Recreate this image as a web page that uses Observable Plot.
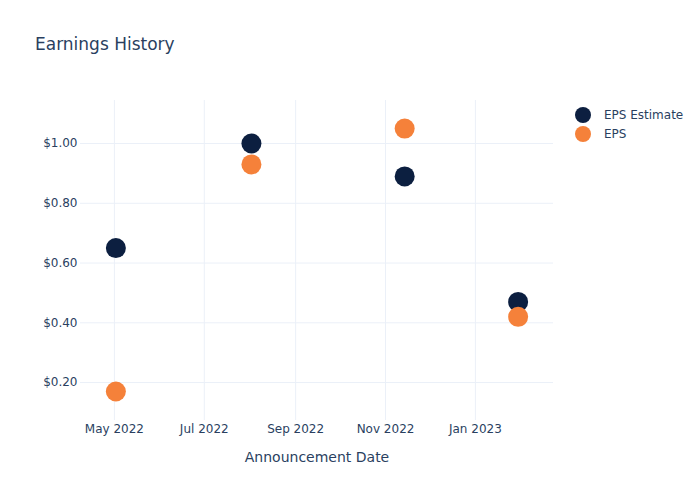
<!DOCTYPE html>
<html>
<head>
<meta charset="utf-8">
<script src="https://cdn.jsdelivr.net/npm/d3@7"></script>
<script src="https://cdn.jsdelivr.net/npm/@observablehq/plot@0.6"></script>
<style>
  html, body { margin: 0; padding: 0; background: #fff; }
  #wrap { position: relative; width: 700px; height: 500px; font-family: "DejaVu Sans", Verdana, sans-serif; color: #2a3f5f; }
  #title { position: absolute; left: 35px; top: 34px; font-size: 17px; color: #2a3f5f; white-space: nowrap; }
  #legend { position: absolute; left: 575px; top: 105px; font-size: 12px; color: #2a3f5f; }
  .item { display: flex; align-items: center; height: 19px; }
  .sw { width: 16px; height: 16px; border-radius: 50%; margin-right: 13px; }
</style>
</head>
<body>
<div id="wrap">
  <div id="chart"></div>
  <div id="title">Earnings History</div>
  <div id="legend"></div>
</div>
<script>
const dates = ["2022-05-02", "2022-08-02", "2022-11-14", "2023-01-30"];
const epsEstimate = [0.65, 1.00, 0.89, 0.47];
const epsActual = [0.17, 0.93, 1.05, 0.42];
const seriesNames = ["EPS Estimate", "EPS"];
const seriesColors = ["#0c1f40", "#f5813a"];
const xTicks = ["2022-05-01", "2022-07-01", "2022-09-01", "2022-11-01", "2023-01-01"];
const yTicks = [0.2, 0.4, 0.6, 0.8, 1.0];

const est = dates.map((d, i) => ({date: new Date(d + "T00:00:00Z"), value: epsEstimate[i]}));
const act = dates.map((d, i) => ({date: new Date(d + "T00:00:00Z"), value: epsActual[i]}));
const fmtDate = d3.utcFormat("%b %Y");

const plot = Plot.plot({
  width: 700,
  height: 500,
  marginLeft: 80,
  marginRight: 147,
  marginTop: 100,
  marginBottom: 80,
  style: {fontFamily: "DejaVu Sans, Verdana, sans-serif", fontSize: "12px", color: "#2a3f5f", background: "#fff"},
  x: {
    type: "utc",
    domain: [new Date("2022-04-08T00:00:00Z"), new Date("2023-02-23T00:00:00Z")],
    ticks: xTicks.map(d => new Date(d + "T00:00:00Z")),
    tickFormat: fmtDate,
    tickSize: 0,
    tickPadding: 4,
    label: null
  },
  y: {
    domain: [0.073, 1.144],
    ticks: yTicks,
    tickFormat: d => "$" + d.toFixed(2),
    tickSize: 0,
    tickPadding: 4,
    label: null
  },
  marks: [
    Plot.gridX(xTicks.map(d => new Date(d + "T00:00:00Z")), {stroke: "#ebf0f8", strokeOpacity: 1, strokeWidth: 1}),
    Plot.gridY(yTicks, {stroke: "#ebf0f8", strokeOpacity: 1, strokeWidth: 1}),
    Plot.axisX({ticks: xTicks.map(d => new Date(d + "T00:00:00Z")), tickFormat: fmtDate, tickSize: 0, tickPadding: 4, label: null, fill: "#2a3f5f"}),
    Plot.axisY({ticks: yTicks, tickFormat: d => "$" + d.toFixed(2), tickSize: 0, tickPadding: 3, label: null, fill: "#2a3f5f"}),
    Plot.text(["Announcement Date"], {frameAnchor: "bottom", dy: 41, fontSize: 14, fill: "#2a3f5f"}),
    Plot.dot(est, {x: "date", y: "value", r: 10, fill: seriesColors[0], stroke: null}),
    Plot.dot(act, {x: "date", y: "value", r: 10, fill: seriesColors[1], stroke: null})
  ]
});
document.getElementById("chart").appendChild(plot);

const legend = document.getElementById("legend");
seriesNames.forEach((name, i) => {
  const row = document.createElement("div");
  row.className = "item";
  const sw = document.createElement("div");
  sw.className = "sw";
  sw.style.background = seriesColors[i];
  const t = document.createElement("span");
  t.textContent = name;
  row.appendChild(sw);
  row.appendChild(t);
  legend.appendChild(row);
});
</script>
</body>
</html>
